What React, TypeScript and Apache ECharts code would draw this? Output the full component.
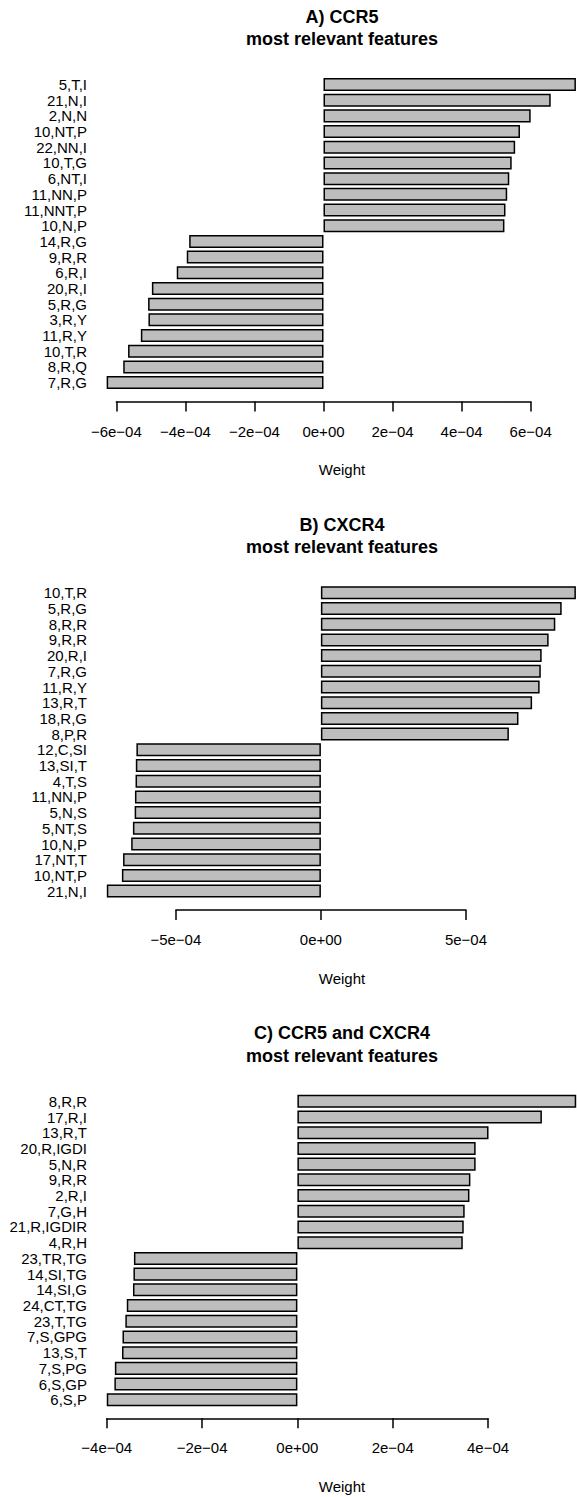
import React, { useEffect, useRef } from "react";
import * as echarts from "echarts";

const namesA = ["5,T,I","21,N,I","2,N,N","10,NT,P","22,NN,I","10,T,G","6,NT,I","11,NN,P","11,NNT,P","10,N,P","14,R,G","9,R,R","6,R,I","20,R,I","5,R,G","3,R,Y","11,R,Y","10,T,R","8,R,Q","7,R,G"];
const weightsA = [7.31e-4,6.58e-4,6.0e-4,5.69e-4,5.55e-4,5.45e-4,5.38e-4,5.32e-4,5.27e-4,5.24e-4,-3.89e-4,-3.96e-4,-4.25e-4,-4.97e-4,-5.08e-4,-5.07e-4,-5.29e-4,-5.66e-4,-5.8e-4,-6.28e-4];
const ticksA = ["\u22126e\u221204","\u22124e\u221204","\u22122e\u221204","0e+00","2e\u221204","4e\u221204","6e\u221204"];

const namesB = ["10,T,R","5,R,G","8,R,R","9,R,R","20,R,I","7,R,G","11,R,Y","13,R,T","18,R,G","8,P,R","12,C,SI","13,SI,T","4,T,S","11,NN,P","5,N,S","5,NT,S","10,N,P","17,NT,T","10,NT,P","21,N,I"];
const weightsB = [8.79e-4,8.3e-4,8.08e-4,7.85e-4,7.61e-4,7.58e-4,7.54e-4,7.28e-4,6.81e-4,6.48e-4,-6.36e-4,-6.38e-4,-6.39e-4,-6.41e-4,-6.42e-4,-6.48e-4,-6.54e-4,-6.82e-4,-6.86e-4,-7.38e-4];
const ticksB = ["\u22125e\u221204","0e+00","5e\u221204"];

const namesC = ["8,R,R","17,R,I","13,R,T","20,R,IGDI","5,N,R","9,R,R","2,R,I","7,G,H","21,R,IGDIR","4,R,H","23,TR,TG","14,SI,TG","14,SI,G","24,CT,TG","23,T,TG","7,S,GPG","13,S,T","7,S,PG","6,S,GP","6,S,P"];
const weightsC = [5.85e-4,5.13e-4,4.01e-4,3.74e-4,3.74e-4,3.63e-4,3.61e-4,3.51e-4,3.49e-4,3.47e-4,-3.43e-4,-3.44e-4,-3.45e-4,-3.58e-4,-3.61e-4,-3.67e-4,-3.68e-4,-3.83e-4,-3.84e-4,-4.0e-4];
const ticksC = ["\u22124e\u221204","\u22122e\u221204","0e+00","2e\u221204","4e\u221204"];

const titles = [
  ["A) CCR5", "most relevant features"],
  ["B) CXCR4", "most relevant features"],
  ["C) CCR5 and CXCR4", "most relevant features"],
];
const axisTitle = "Weight";

// layout (pixels)
const panels = [
  { names: namesA, weights: weightsA, ticks: ticksA, tickMin: -6e-4, tickMax: 6e-4, tickStep: 2e-4, firstCenter: 84.5, pitch: 15.69, zeroX: 323.5, pxPer: 34.53, axisY: 401.6 },
  { names: namesB, weights: weightsB, ticks: ticksB, tickMin: -5e-4, tickMax: 5e-4, tickStep: 5e-4, firstCenter: 592.8, pitch: 15.7, zeroX: 320.9, pxPer: 29.01, axisY: 910 },
  { names: namesC, weights: weightsC, ticks: ticksC, tickMin: -4e-4, tickMax: 4e-4, tickStep: 2e-4, firstCenter: 1101.3, pitch: 15.71, zeroX: 297.4, pxPer: 47.66, axisY: 1418.3 },
];

const W = 577;
const H = 1497;
const PLOT_LEFT = 88;
const CENTER_X = 342;
const FONT = "'Liberation Sans', Arial, Helvetica, sans-serif";

function buildOption() {
  const grid: any[] = [];
  const xAxis: any[] = [];
  const yAxis: any[] = [];
  const series: any[] = [];
  const graphic: any[] = [];

  panels.forEach((p, k) => {
    const n = p.names.length;
    const top = p.firstCenter - p.pitch / 2;
    const height = p.pitch * n;
    const unit = 1e-4;
    const min = ((PLOT_LEFT - p.zeroX) / p.pxPer) * unit;
    const max = ((W - p.zeroX) / p.pxPer) * unit;

    // bar grid
    const gi = grid.length;
    grid.push({ left: PLOT_LEFT, top, width: W - PLOT_LEFT, height, containLabel: false });
    xAxis.push({ type: "value", gridIndex: gi, min, max, show: false });
    yAxis.push({
      type: "category",
      gridIndex: gi,
      data: p.names,
      inverse: true,
      axisLine: { show: false },
      axisTick: { show: false },
      splitLine: { show: false },
      axisLabel: { interval: 0, margin: 1, fontSize: 15, color: "#000", fontFamily: FONT },
    });
    series.push({
      type: "bar",
      xAxisIndex: gi,
      yAxisIndex: gi,
      data: p.weights,
      barCategoryGap: "17%",
      clip: false,
      itemStyle: { color: "#BEBEBE", borderColor: "#000", borderWidth: 1.5 },
      silent: true,
    });

    // axis grid
    const ai = grid.length;
    const axLeft = p.zeroX + (p.tickMin / unit) * p.pxPer;
    const axRight = p.zeroX + (p.tickMax / unit) * p.pxPer;
    grid.push({ left: axLeft, top: p.axisY - 1, width: axRight - axLeft, height: 1, containLabel: false });
    xAxis.push({
      type: "value",
      gridIndex: ai,
      position: "bottom",
      min: p.tickMin,
      max: p.tickMax,
      interval: p.tickStep,
      splitLine: { show: false },
      axisLine: { show: true, onZero: false, lineStyle: { color: "#000", width: 1.5 } },
      axisTick: { show: true, length: 10, lineStyle: { color: "#000", width: 1.5 } },
      axisLabel: {
        margin: 22,
        fontSize: 15,
        color: "#000",
        fontFamily: FONT,
        showMinLabel: true,
        showMaxLabel: true,
        formatter: (_v: number, i: number) => p.ticks[i] ?? "",
      },
    });
    yAxis.push({ type: "value", gridIndex: ai, show: false, min: 0, max: 1 });

    const t1y = p.firstCenter - 68;
    graphic.push({
      type: "text",
      x: CENTER_X,
      y: t1y,
      style: { text: titles[k][0], textAlign: "center", textVerticalAlign: "middle", font: `bold 18px ${FONT}`, fill: "#000" },
    });
    graphic.push({
      type: "text",
      x: CENTER_X,
      y: t1y + 22.5,
      style: { text: titles[k][1], textAlign: "center", textVerticalAlign: "middle", font: `bold 18px ${FONT}`, fill: "#000" },
    });
    graphic.push({
      type: "text",
      x: CENTER_X,
      y: p.axisY + 68,
      style: { text: axisTitle, textAlign: "center", textVerticalAlign: "middle", font: `15px ${FONT}`, fill: "#000" },
    });
  });

  return {
    animation: false,
    backgroundColor: "#fff",
    grid,
    xAxis,
    yAxis,
    series,
    graphic,
  };
}

export default function App() {
  const ref = useRef<HTMLDivElement>(null);
  useEffect(() => {
    if (!ref.current) return;
    const chart = echarts.init(ref.current, null, { renderer: "svg" });
    chart.setOption(buildOption() as any);
    return () => chart.dispose();
  }, []);
  return <div ref={ref} style={{ position: "absolute", left: 0, top: 0, width: W, height: H }} />;
}
